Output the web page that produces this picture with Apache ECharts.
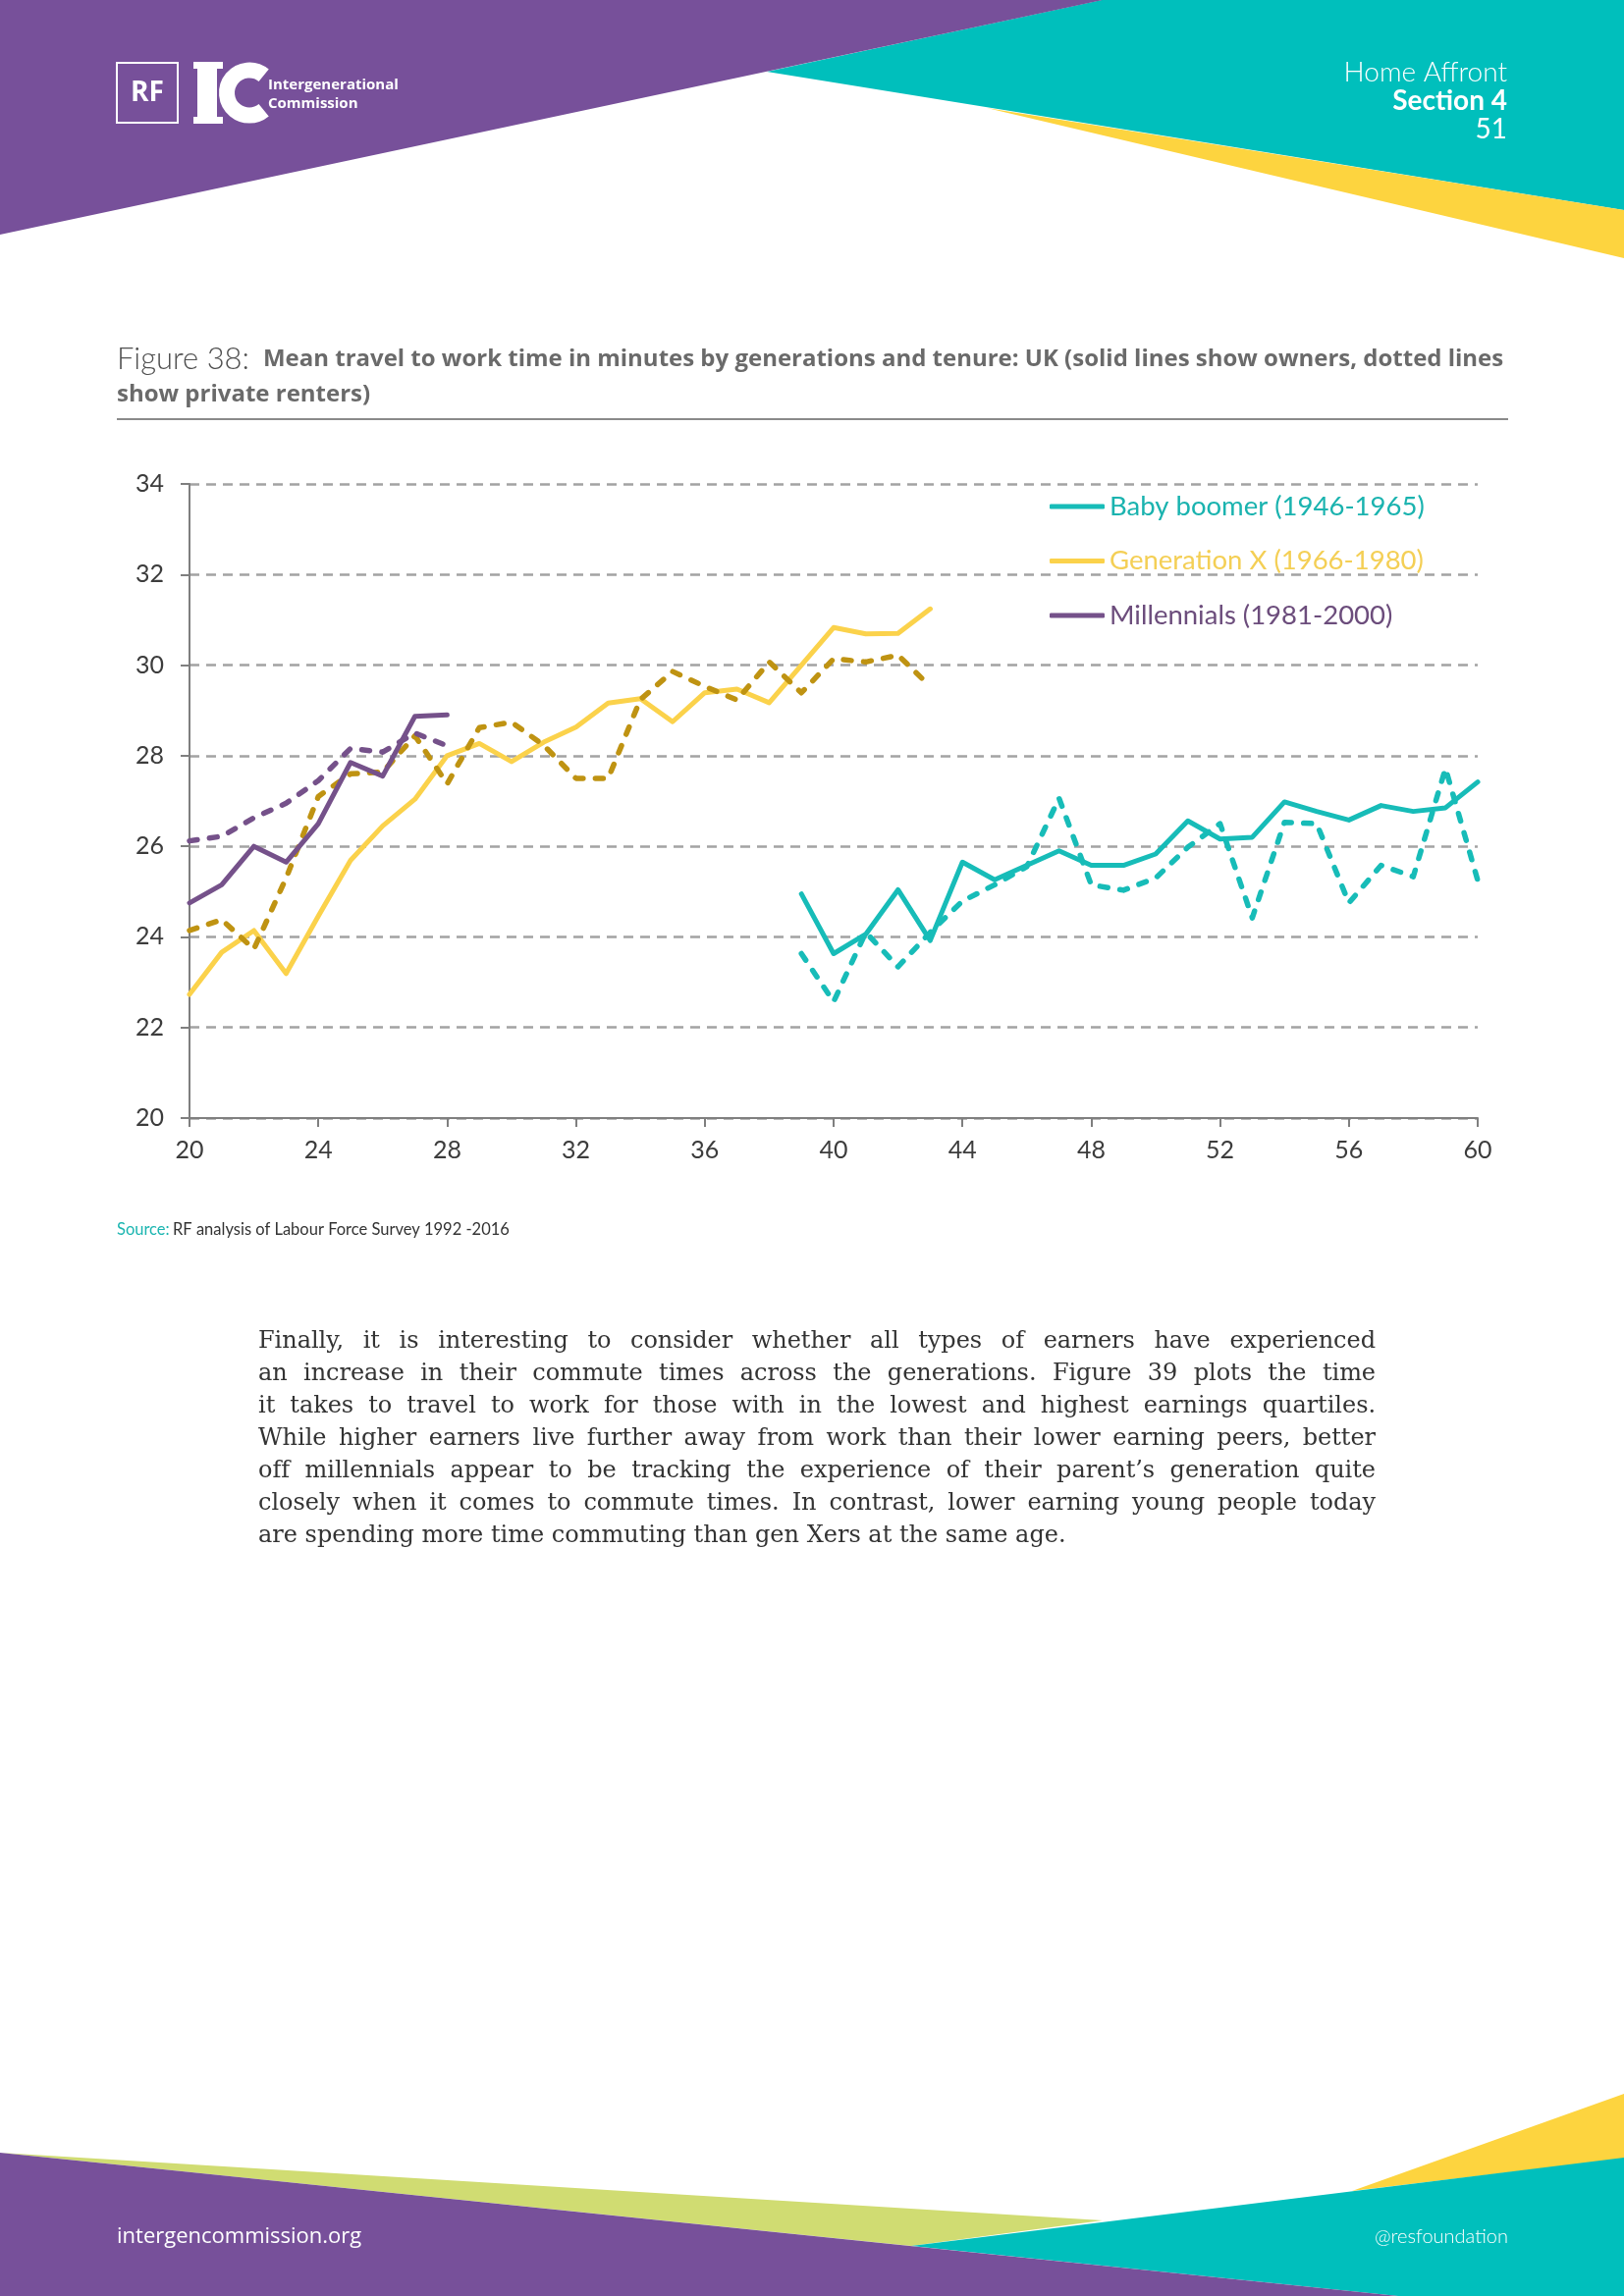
<!DOCTYPE html>
<html>
<head>
<meta charset="utf-8">
<script src="https://cdn.jsdelivr.net/npm/echarts@6/dist/echarts.min.js"></script>
<style>
  html, body { margin: 0; padding: 0; background: #ffffff; }
  #page { position: relative; width: 1654px; height: 2339px; overflow: hidden; }
  #chart { position: absolute; left: 0; top: 0; width: 1654px; height: 2339px; }
  #para { position: absolute; left: 263px; top: 1349px; width: 1138px;
          font-family: "DejaVu Serif", "Liberation Serif", serif; font-size: 24px;
          color: #333333; line-height: 33px; }
  #para div { text-align: justify; text-align-last: justify; white-space: nowrap; }
  #para div.last { text-align-last: left; }
</style>
</head>
<body>
<div id="page">
  <div id="chart"></div>
  <div id="para"></div>
</div>
<script>
// ---------------- data ----------------
const xTicks = [20, 24, 28, 32, 36, 40, 44, 48, 52, 56, 60];
const yTicks = [20, 22, 24, 26, 28, 30, 32, 34];

const millAges = [20, 21, 22, 23, 24, 25, 26, 27, 28];
const millOwners = [24.75, 25.15, 26.0, 25.65, 26.5, 27.85, 27.55, 28.87, 28.9];
const millRenters = [26.12, 26.22, 26.63, 26.95, 27.45, 28.16, 28.08, 28.5, 28.22];

const genXAges = [20, 21, 22, 23, 24, 25, 26, 27, 28, 29, 30, 31, 32, 33, 34, 35, 36, 37, 38, 39, 40, 41, 42, 43];
const genXOwners = [22.73, 23.66, 24.14, 23.19, 24.46, 25.69, 26.45, 27.04, 28.0, 28.27, 27.87, 28.3, 28.63, 29.16, 29.26, 28.75, 29.39, 29.47, 29.17, 30.0, 30.83, 30.69, 30.7, 31.24];
const genXRenters = [24.14, 24.38, 23.73, 25.3, 27.1, 27.6, 27.64, 28.44, 27.38, 28.62, 28.74, 28.23, 27.5, 27.5, 29.24, 29.86, 29.53, 29.23, 30.07, 29.39, 30.14, 30.07, 30.22, 29.53];

const boomAges = [39, 40, 41, 42, 43, 44, 45, 46, 47, 48, 49, 50, 51, 52, 53, 54, 55, 56, 57, 58, 59, 60];
const boomOwners = [24.95, 23.63, 24.06, 25.04, 23.92, 25.65, 25.26, 25.58, 25.9, 25.58, 25.58, 25.83, 26.56, 26.16, 26.2, 26.98, 26.77, 26.58, 26.9, 26.77, 26.85, 27.42];
const boomRenters = [23.63, 22.57, 24.1, 23.34, 24.1, 24.79, 25.15, 25.55, 27.06, 25.15, 25.03, 25.3, 25.98, 26.5, 24.42, 26.53, 26.5, 24.75, 25.58, 25.33, 27.72, 25.25];

const legendNames = ['Baby boomer (1946-1965)', 'Generation X (1966-1980)', 'Millennials (1981-2000)'];

const titleLead = 'Figure 38:';
const titleLine1 = 'Mean travel to work time in minutes by generations and tenure: UK (solid lines show owners, dotted lines';
const titleLine2 = 'show private renters)';
const sourceLabel = 'Source:';
const sourceText = 'RF analysis of Labour Force Survey 1992 -2016';

const paraLines = [
  'Finally, it is interesting to consider whether all types of earners have experienced',
  'an increase in their commute times across the generations. Figure 39 plots the time',
  'it takes to travel to work for those with in the lowest and highest earnings quartiles.',
  'While higher earners live further away from work than their lower earning peers, better',
  'off millennials appear to be tracking the experience of their parent\u2019s generation quite',
  'closely when it comes to commute times. In contrast, lower earning young people today',
  'are spending more time commuting than gen Xers at the same age.'
];

// ---------------- colours ----------------
const TEAL = '#17bcb8';
const YELLOW = '#fbd24b';
const GOLD = '#bf9312';
const PURPLE = '#75518a';
const PAGE_PURPLE = '#77509a';
const PAGE_TEAL = '#00bfbc';
const PAGE_YELLOW = '#fdd43f';
const PAGE_GREEN = '#d0dc72';

// paragraph (real text, justified; tighten letters where a line is too long)
const para = document.getElementById('para');
const PARA_W = 1138;
paraLines.forEach((t, i) => {
  const d = document.createElement('div');
  const s = document.createElement('span');
  s.textContent = t;
  d.appendChild(s);
  if (i === paraLines.length - 1) d.className = 'last';
  para.appendChild(d);
  const w = s.getBoundingClientRect().width;
  const target = (i === paraLines.length - 1) ? w : PARA_W - 4;
  if (w > target) {
    d.style.letterSpacing = ((target - w) / t.length).toFixed(3) + 'px';
  }
});

// measure title fonts so the lines span the same width as the original
const mctx = document.createElement('canvas').getContext('2d');
function fitSize(text, fontTpl, targetW) {
  mctx.font = fontTpl.replace('{s}', '20px');
  const w = mctx.measureText(text).width;
  return 20 * targetW / w;
}
const TITLE_B_FONT = '"Open Sans", sans-serif';
const titleBSize = Math.min(25, fitSize(titleLine1, 'bold {s} ' + TITLE_B_FONT, 1264));
const titleASize = Math.min(32, fitSize(titleLead, '300 {s} Lato, sans-serif', 135));

function pairs(xs, ys) { return xs.map((x, i) => [x, ys[i]]); }

const solid = (c) => ({ color: c, width: 5, type: 'solid', cap: 'round', join: 'round' });
const dashed = (c) => ({ color: c, width: 5.5, type: [8, 12.5], cap: 'round', join: 'round' });

const FONT = 'Lato, "Noto Sans", sans-serif';

const chart = echarts.init(document.getElementById('chart'), null, { renderer: 'canvas' });

const graphic = [
  // header shapes
  { type: 'polygon', z: 1, shape: { points: [[781, 73], [1122, 0], [1654, 0], [1654, 214]] }, style: { fill: PAGE_TEAL } },
  { type: 'polygon', z: 1, shape: { points: [[1005, 110], [1654, 214], [1654, 263]] }, style: { fill: PAGE_YELLOW } },
  { type: 'polygon', z: 2, shape: { points: [[0, 0], [1123, 0], [0, 239]] }, style: { fill: PAGE_PURPLE } },
  // logo
  { type: 'rect', z: 3, shape: { x: 119, y: 64, width: 62, height: 61 }, style: { fill: 'none', stroke: '#ffffff', lineWidth: 2 } },
  { type: 'text', z: 3, style: { x: 150, y: 95, text: 'RF', fill: '#ffffff', font: 'bold 28px "Open Sans", sans-serif', align: 'center', verticalAlign: 'middle' } },
  { type: 'rect', z: 3, shape: { x: 201, y: 64, width: 20, height: 61 }, style: { fill: '#ffffff' } },
  { type: 'rect', z: 3, shape: { x: 197, y: 63, width: 30, height: 7 }, style: { fill: '#ffffff' } },
  { type: 'rect', z: 3, shape: { x: 197, y: 119, width: 30, height: 7 }, style: { fill: '#ffffff' } },
  { type: 'arc', z: 3, shape: { cx: 254, cy: 94.5, r: 23, startAngle: -Math.PI * 0.28, endAngle: Math.PI * 0.28, clockwise: false }, style: { stroke: '#ffffff', lineWidth: 16, fill: 'none' } },
  { type: 'text', z: 3, style: { x: 273, y: 87, text: 'Intergenerational', fill: '#ffffff', font: 'bold 15px "Liberation Sans Narrow", "Open Sans", sans-serif', verticalAlign: 'middle' } },
  { type: 'text', z: 3, style: { x: 273, y: 106, text: 'Commission', fill: '#ffffff', font: 'bold 15px "Liberation Sans Narrow", "Open Sans", sans-serif', verticalAlign: 'middle' } },
  // header texts
  { type: 'text', z: 3, style: { x: 1535, y: 74, text: 'Home Affront', fill: '#ffffff', font: '300 28px Lato, sans-serif', align: 'right', verticalAlign: 'middle' } },
  { type: 'text', z: 3, style: { x: 1535, y: 103, text: 'Section 4', fill: '#ffffff', font: 'bold 28px Lato, sans-serif', align: 'right', verticalAlign: 'middle' } },
  { type: 'text', z: 3, style: { x: 1535, y: 132, text: '51', fill: '#ffffff', font: '28px Lato, sans-serif', align: 'right', verticalAlign: 'middle' } },
  // title
  { type: 'text', z: 3, style: { x: 119, y: 366, verticalAlign: 'middle',
      text: '{a|' + titleLead + '}{g| }{b|' + titleLine1 + '}',
      rich: { a: { fontSize: titleASize, fontFamily: 'Lato, sans-serif', fontWeight: 300, fill: '#505050' },
              g: { fontSize: 16, width: 14 },
              b: { fontSize: titleBSize, fontFamily: TITLE_B_FONT, fontWeight: 'bold', fill: '#6a6a6a' } } } },
  { type: 'text', z: 3, style: { x: 119, y: 402, verticalAlign: 'middle', text: titleLine2,
      font: 'bold ' + titleBSize.toFixed(2) + 'px ' + TITLE_B_FONT, fill: '#6a6a6a' } },
  { type: 'line', z: 3, shape: { x1: 119, y1: 427, x2: 1536, y2: 427 }, style: { stroke: '#8a8a8a', lineWidth: 2 } },
  // source
  { type: 'text', z: 3, style: { x: 119, y: 1253, verticalAlign: 'middle',
      text: '{s|' + sourceLabel + '} {t|' + sourceText + '}',
      rich: { s: { fontSize: 16.5, fontFamily: 'Lato, sans-serif', fill: '#1bb5b0' },
              t: { fontSize: 16.5, fontFamily: 'Lato, sans-serif', fill: '#333333' } } } },
  // footer shapes
  { type: 'polygon', z: 1, shape: { points: [[0, 2193], [1123, 2262], [928, 2288]] }, style: { fill: PAGE_GREEN } },
  { type: 'polygon', z: 1, shape: { points: [[1377, 2232], [1654, 2133], [1654, 2199]] }, style: { fill: PAGE_YELLOW } },
  { type: 'polygon', z: 1, shape: { points: [[928, 2288], [1654, 2198], [1654, 2339], [1424, 2339]] }, style: { fill: PAGE_TEAL } },
  { type: 'polygon', z: 2, shape: { points: [[0, 2193], [1424, 2339], [0, 2339]] }, style: { fill: PAGE_PURPLE } },
  { type: 'text', z: 3, style: { x: 119, y: 2279, text: 'intergencommission.org', fill: '#ffffff', font: '22px "Open Sans", sans-serif', verticalAlign: 'middle' } },
  { type: 'text', z: 3, style: { x: 1536, y: 2279, text: '@resfoundation', fill: '#ffffff', font: '300 20px Lato, sans-serif', align: 'right', verticalAlign: 'middle' } }
];

const option = {
  animation: false,
  backgroundColor: '#ffffff',
  grid: { left: 193, right: 149, top: 493, bottom: 1200, containLabel: false },
  xAxis: {
    type: 'value', min: xTicks[0], max: xTicks[xTicks.length - 1], interval: 4,
    axisLine: { show: true, lineStyle: { color: '#7f7f7f', width: 2 } },
    axisTick: { show: true, length: 9, lineStyle: { color: '#7f7f7f', width: 2 } },
    axisLabel: { fontSize: 25, color: '#3c3c3c', fontFamily: FONT, margin: 20 },
    splitLine: { show: false }
  },
  yAxis: {
    type: 'value', min: yTicks[0], max: yTicks[yTicks.length - 1], interval: 2,
    axisLine: { show: true, lineStyle: { color: '#7f7f7f', width: 2 } },
    axisTick: { show: true, length: 9, lineStyle: { color: '#7f7f7f', width: 2 } },
    axisLabel: { fontSize: 25, color: '#3c3c3c', fontFamily: FONT, margin: 26 },
    splitLine: { show: true, lineStyle: { color: '#a3a3a3', width: 2.5, type: [10, 7] } }
  },
  legend: {
    show: true, orient: 'vertical', left: 1064, top: 496,
    icon: 'roundRect', itemWidth: 56, itemHeight: 5, itemGap: 25.5,
    textStyle: { fontSize: 27.5, lineHeight: 30, fontFamily: FONT },
    data: [
      { name: legendNames[0], textStyle: { color: '#1ab3af' } },
      { name: legendNames[1], textStyle: { color: '#f4cf55' } },
      { name: legendNames[2], textStyle: { color: '#6c4d7c' } }
    ]
  },
  graphic: graphic,
  series: [
    { name: legendNames[0], type: 'line', data: pairs(boomAges, boomOwners), symbol: 'none', color: TEAL, lineStyle: solid(TEAL), z: 5 },
    { name: legendNames[0] + ' \u2013 private renters', type: 'line', data: pairs(boomAges, boomRenters), symbol: 'none', color: TEAL, lineStyle: dashed(TEAL), z: 4 },
    { name: legendNames[1], type: 'line', data: pairs(genXAges, genXOwners), symbol: 'none', color: YELLOW, lineStyle: solid(YELLOW), z: 4 },
    { name: legendNames[1] + ' \u2013 private renters', type: 'line', data: pairs(genXAges, genXRenters), symbol: 'none', color: GOLD, lineStyle: dashed(GOLD), z: 5 },
    { name: legendNames[2], type: 'line', data: pairs(millAges, millOwners), symbol: 'none', color: PURPLE, lineStyle: solid(PURPLE), z: 6 },
    { name: legendNames[2] + ' \u2013 private renters', type: 'line', data: pairs(millAges, millRenters), symbol: 'none', color: PURPLE, lineStyle: dashed(PURPLE), z: 6 }
  ]
};
chart.setOption(option);
</script>
</body>
</html>
